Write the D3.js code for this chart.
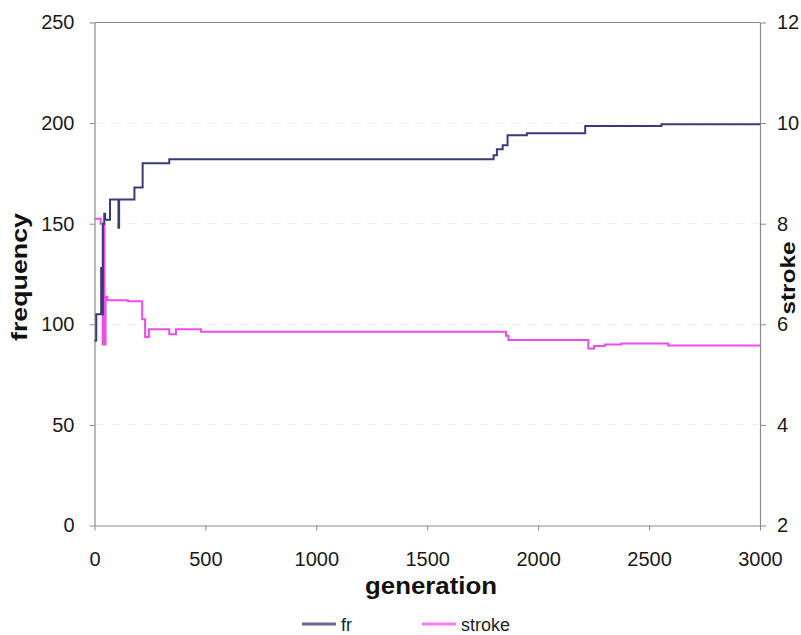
<!DOCTYPE html>
<html>
<head>
<meta charset="utf-8">
<script src="https://cdn.jsdelivr.net/npm/d3@7"></script>
<style>
  html, body { margin: 0; padding: 0; background: #fff; }
  text { font-family: "Liberation Sans", Arial, sans-serif; }
</style>
</head>
<body>
<svg id="chart" width="801" height="635"></svg>
<script>
// ---- data ----
const frGen    = [0, 8, 30, 33, 38, 44, 48, 70, 108, 111, 180, 217, 337, 1799, 1814, 1840, 1862, 1949, 2212, 2556, 3000];
const frVal    = [92, 105, 128, 105, 150, 155, 152, 162, 148, 162, 168, 180, 182, 184, 187, 189, 194, 195, 198.5, 199.4, 199.4];
const strokeGen = [0, 28, 37, 41, 45, 50, 58, 150, 215, 228, 245, 337, 367, 480, 1855, 1866, 2212, 2226, 2252, 2300, 2375, 2586, 3000];
const strokeVal = [8.1, 8.0, 5.6, 8.0, 5.6, 6.55, 6.48, 6.46, 6.1, 5.75, 5.9, 5.8, 5.9, 5.85, 5.77, 5.69, 5.69, 5.52, 5.57, 5.6, 5.62, 5.58, 5.58];
const xTicks = [0, 500, 1000, 1500, 2000, 2500, 3000];
const leftTicks = [0, 50, 100, 150, 200, 250];
const rightTicks = [2, 4, 6, 8, 10, 12];
const seriesNames = ["fr", "stroke"];
const seriesColors = ["#3b3b78", "#ee4cee"];

// ---- layout ----
const L = 94.5, R = 760, T = 22.5, B = 525.5;
const svg = d3.select("#chart");

const x = d3.scaleLinear().domain([0, 3000]).range([L, R]);
const yL = d3.scaleLinear().domain([0, 250]).range([B, T]);
const yR = d3.scaleLinear().domain([2, 12]).range([B, T]);

// faint dashed gridlines
svg.append("g").selectAll("line")
  .data(leftTicks.filter(d => d > 0 && d < 250))
  .join("line")
  .attr("x1", L + 1).attr("x2", R - 1)
  .attr("y1", d => yL(d)).attr("y2", d => yL(d))
  .attr("stroke", "#ececec").attr("stroke-width", 1)
  .attr("stroke-dasharray", "9,7");

// plot frame top
svg.append("line").attr("x1", L).attr("x2", R).attr("y1", T).attr("y2", T)
  .attr("stroke", "#8a8a8a").attr("stroke-width", 1);

const axisStyle = g => {
  g.selectAll("path").attr("stroke", "#8a8a8a").attr("stroke-width", 1.2);
  g.selectAll("line").attr("stroke", "#8a8a8a");
  g.selectAll("text").attr("fill", "#1a1a1a").style("font-size", "20px")
    .style("font-family", "'Liberation Sans', Arial, sans-serif");
};

svg.append("g").attr("transform", `translate(0,${B})`)
  .call(d3.axisBottom(x).tickValues(xTicks).tickFormat(d3.format("d")).tickSize(5).tickPadding(21).tickSizeOuter(0))
  .call(axisStyle)
  .call(g => g.selectAll("text").attr("dy", "0.71em"));

svg.append("g").attr("transform", `translate(${L},0)`)
  .call(d3.axisLeft(yL).tickValues(leftTicks).tickSize(5).tickPadding(15).tickSizeOuter(0))
  .call(axisStyle);

svg.append("g").attr("transform", `translate(${R},0)`)
  .call(d3.axisRight(yR).tickValues(rightTicks).tickSize(6).tickPadding(11).tickSizeOuter(0))
  .call(axisStyle);

// lines
const frData = frGen.map((g, i) => [g, frVal[i]]);
const stData = strokeGen.map((g, i) => [g, strokeVal[i]]);

svg.append("path").datum(stData)
  .attr("fill", "none").attr("stroke", seriesColors[1]).attr("stroke-width", 2)
  .attr("d", d3.line().x(d => x(d[0])).y(d => yR(d[1])).curve(d3.curveStepAfter));

svg.append("path").datum(frData)
  .attr("fill", "none").attr("stroke", seriesColors[0]).attr("stroke-width", 2)
  .attr("d", d3.line().x(d => x(d[0])).y(d => yL(d[1])).curve(d3.curveStepAfter));

// axis titles
svg.append("text").text("generation")
  .attr("x", 431).attr("y", 594).attr("text-anchor", "middle")
  .attr("textLength", 132).attr("lengthAdjust", "spacingAndGlyphs")
  .style("font-size", "24px").style("font-weight", "bold").attr("fill", "#111");

svg.append("text").text("frequency")
  .attr("transform", "translate(27,277) rotate(-90)")
  .attr("text-anchor", "middle")
  .attr("textLength", 128).attr("lengthAdjust", "spacingAndGlyphs")
  .style("font-size", "22px").style("font-weight", "bold").attr("fill", "#111");

svg.append("text").text("stroke")
  .attr("transform", "translate(795,278) rotate(-90)")
  .attr("text-anchor", "middle")
  .attr("textLength", 73).attr("lengthAdjust", "spacingAndGlyphs")
  .style("font-size", "20px").style("font-weight", "bold").attr("fill", "#111");

// legend
const legendX = [302, 422];
const legendLegColors = ["#6a6a92", "#ff77ff"];
const lg = svg.append("g");
seriesNames.forEach((name, i) => {
  lg.append("line").attr("x1", legendX[i]).attr("x2", legendX[i] + 34)
    .attr("y1", 624).attr("y2", 624)
    .attr("stroke", legendLegColors[i]).attr("stroke-width", 3);
  lg.append("text").text(name).attr("x", legendX[i] + 39).attr("y", 631)
    .style("font-size", "18px").attr("fill", "#222");
});
</script>
</body>
</html>
